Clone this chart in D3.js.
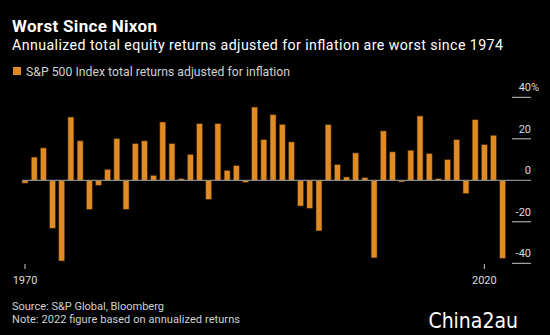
<!DOCTYPE html>
<html>
<head>
<meta charset="utf-8">
<script src="https://cdn.jsdelivr.net/npm/d3@7"></script>
<style>
  body { margin: 0; background: #000; }
  svg { display: block; font-family: Roboto, "Liberation Sans", sans-serif; }
</style>
</head>
<body>
<div id="chart"></div>
<script>
// S&P 500 real total return by year (%)
const years = d3.range(1970, 2023);
const returns = [
	-1.4, 11.2, 15.6, -23.1, -38.9, 30.5, 19.0, -14.0, -2.4, 5.3,
	20.1, -14.0, 17.7, 19.0, 2.4, 28.1, 17.7, 0.8, 12.5, 27.3,
	-9.2, 27.3, 4.8, 7.1, -1.0, 35.3, 19.6, 31.6, 27.0, 18.5,
	-12.4, -13.5, -24.4, 26.8, 7.6, 1.6, 13.2, 1.3, -37.4, 23.8,
	13.7, -0.8, 14.5, 31.0, 12.9, 0.8, 10.0, 19.6, -6.4, 29.2,
	17.2, 21.7, -37.6,
];
const yTicks = [40, 20, 0, -20, -40];
const xTicks = [1970, 2020];

const data = years.map((yr, i) => ({ year: yr, value: returns[i] }));

const width = 550;
const height = 335;

const svg = d3.select('#chart').append('svg').attr('width', width).attr('height', height);

svg.append('rect').attr('width', width).attr('height', height).attr('fill', '#000');

// Define scales
const x = d3
	.scaleBand()
	.domain(years)
	.range([20.4, 507.3])
	.paddingInner(0.35)
	.paddingOuter(0.175);

const y = d3.scaleLinear().domain([-40, 40]).range([263.3, 97.3]);

// text helper, stretches spacing to the measured width of the original
const addText = (x0, y0, str, size, color, len) =>
	svg
		.append('text')
		.attr('x', x0)
		.attr('y', y0)
		.attr('fill', color)
		.attr('font-size', size)
		.attr('textLength', len)
		.attr('lengthAdjust', 'spacing')
		.text(str);

// Titles
addText(12, 32, 'Worst Since Nixon', 17, '#fff', 145).attr('font-weight', 'bold');
addText(12, 50, 'Annualized total equity returns adjusted for inflation are worst since 1974', 14.2, '#fff', 491);

// Legend
svg.append('rect').attr('x', 13).attr('y', 67).attr('width', 8).attr('height', 8).attr('fill', '#e08b24');
addText(26, 75.5, 'S&P 500 Index total returns adjusted for inflation', 12.2, '#d0d0d0', 264);

// Y axis (right side, labels above ticks)
const yAxis = svg.append('g');
yTicks.forEach((t) => {
	yAxis
		.append('line')
		.attr('x1', 512)
		.attr('x2', 531)
		.attr('y1', y(t))
		.attr('y2', y(t))
		.attr('stroke', t === 0 ? 'none' : '#c8c8c8')
		.attr('stroke-width', 1);
	yAxis
		.append('text')
		.attr('x', 531)
		.attr('y', y(t) - 6)
		.attr('text-anchor', 'end')
		.attr('fill', '#dcdcdc')
		.attr('font-size', 11)
		.text(t);
	if (t === 40) {
		yAxis.append('text').attr('x', 531).attr('y', y(t) - 6).attr('fill', '#dcdcdc').attr('font-size', 11).text('%');
	}
});

// Bars
svg
	.selectAll('.bar')
	.data(data)
	.enter()
	.append('rect')
	.attr('class', 'bar')
	.attr('x', (d) => x(d.year))
	.attr('width', x.bandwidth())
	.attr('y', (d) => y(Math.max(0, d.value)))
	.attr('height', (d) => Math.abs(y(d.value) - y(0)))
	.attr('fill', '#e08b24')
	.attr('stroke', '#3a2408')
	.attr('stroke-width', 0.6);

// Zero line
svg
	.append('line')
	.attr('x1', x(1970))
	.attr('x2', 531)
	.attr('y1', y(0))
	.attr('y2', y(0))
	.attr('stroke', '#8a8a8a')
	.attr('stroke-width', 1.2);

// X axis ticks
xTicks.forEach((t) => {
	const cx = x(t) + x.bandwidth() / 2;
	svg.append('line').attr('x1', cx).attr('x2', cx).attr('y1', 264).attr('y2', 269).attr('stroke', '#c8c8c8');
	svg
		.append('text')
		.attr('x', cx)
		.attr('y', 284)
		.attr('text-anchor', 'middle')
		.attr('fill', '#dcdcdc')
		.attr('font-size', 11)
		.text(t);
});

// Footer
addText(12, 310, 'Source: S&P Global, Bloomberg', 11, '#d0d0d0', 152);
addText(12, 322.5, 'Note: 2022 figure based on annualized returns', 11, '#d0d0d0', 228);

svg
	.append('text')
	.attr('x', 518)
	.attr('y', 328)
	.attr('text-anchor', 'end')
	.attr('fill', '#fff')
	.attr('font-size', 21)
	.attr('font-family', '"Liberation Sans Narrow", "DejaVu Sans Condensed", sans-serif')
	.text('China2au');
</script>
</body>
</html>
